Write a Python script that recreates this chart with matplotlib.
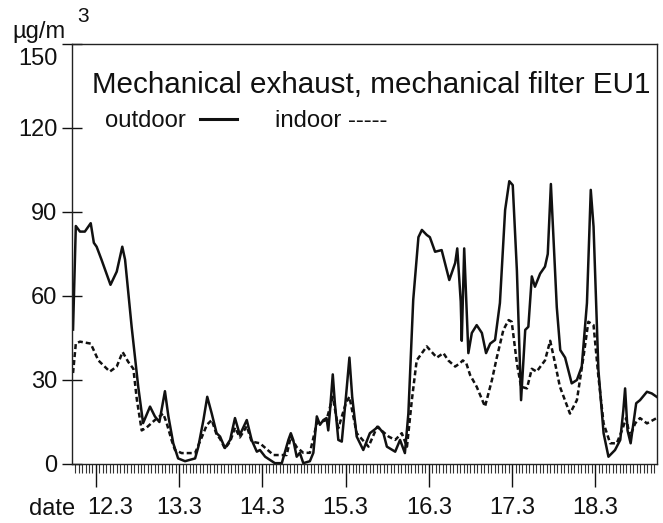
import matplotlib
matplotlib.use('Agg')
import matplotlib.pyplot as plt
import matplotlib.transforms as mtransforms
from matplotlib.ticker import MultipleLocator, FixedLocator
from matplotlib.lines import Line2D

plt.rcParams['font.family'] = ['Liberation Sans', 'DejaVu Sans']

# time axis: hours counted from 12.3 00:00
outdoor_hours = [-6.6, -5.8, -4.6, -3.2, -1.5, -0.6, 0.2, 1.6, 4.2, 6.0, 7.6, 8.4, 10.3, 12.2,
                 13.6, 15.6, 17.0, 18.3, 19.9, 20.9, 22.3, 23.7, 25.7, 28.6, 29.5, 31.0, 32.1,
                 33.4, 34.8, 35.8, 37.2, 38.7, 40.1, 41.5, 43.5, 44.9, 46.4, 47.3, 48.8, 51.6,
                 53.6, 55.5, 56.2, 56.9, 57.9, 58.8, 59.8, 61.7, 62.7, 63.7, 64.6, 65.6, 66.5,
                 67.0, 67.5, 68.3, 68.9, 69.9, 70.9, 72.1, 73.1, 73.9, 75.2, 77.1, 79.0, 81.4,
                 82.9, 83.9, 86.3, 87.7, 89.1, 90.1, 91.5, 93.0, 94.0, 95.4, 96.3, 97.8, 99.7,
                 101.9, 103.6, 104.2, 105.2, 105.5, 106.2, 107.4, 108.4, 109.8, 111.3, 112.5,
                 113.7, 115.1, 116.5, 118.0, 119.2, 120.2, 121.4, 122.6, 123.8, 124.7, 125.7,
                 126.6, 128.1, 129.5, 130.3, 131.2, 132.9, 133.9, 135.3, 137.2, 138.7, 140.1,
                 141.6, 142.7, 143.5, 144.9, 146.4, 147.8, 149.7, 151.2, 152.1, 152.6, 153.3,
                 154.2, 155.8, 156.9, 158.9, 160.3, 161.7]
outdoor_values = [48, 85, 83, 83, 86, 79, 77.6, 73, 64, 68.7, 77.6, 73, 49, 27.6,
                  14.6, 20.5, 17, 15, 26, 17, 7.4, 2, 1, 2, 6, 15.7, 24,
                  18, 11, 9.8, 5.7, 8.6, 16.4, 10.4, 15.7, 8.6, 4.4, 5, 2.6, 0.3,
                  0.3, 8.6, 11, 8.6, 2.6, 4, 0.3, 1, 4, 17, 14, 15.7, 16.4,
                  12, 19, 32, 21.8, 8.6, 8, 24, 38, 24, 9.8, 5, 11, 13.3,
                  11, 6.2, 4.4, 8.6, 3.9, 18, 58.6, 81, 83.6, 81.8, 81, 75.8, 76.4,
                  65.7, 71.8, 77, 58, 44, 77, 39.6, 46.8, 49.6, 46.8, 39.6,
                  43, 44.3, 57.5, 90.7, 101, 99.6, 69, 22.8, 47.9, 49, 67,
                  63.3, 68, 70.5, 75, 100, 56, 40.7, 38, 28.8, 30, 34.8,
                  57.5, 97.9, 84.8, 33.6, 11, 2.6, 5, 8.6, 19.3, 27, 12,
                  7.4, 21.7, 22.8, 25.8, 25.2, 24]

indoor_hours = [-6.6, -5.8, -4.6, -1.5, 0.7, 4.0, 6.0, 7.7, 9.3, 10.8, 11.8, 13.2, 14.6,
                17.0, 19.4, 20.4, 21.8, 22.8, 24.7, 28.6, 30.6, 32.0, 33.4, 34.8, 35.8, 37.2,
                38.7, 40.1, 41.5, 43.5, 44.9, 47.3, 51.2, 55.0, 56.2, 57.9, 59.8, 61.7, 63.7,
                66.5, 68.3, 69.9, 72.1, 73.1, 75.2, 78.6, 81.1, 84.4, 86.3, 88.2, 89.7, 91.1,
                92.5, 95.4, 98.3, 100.2, 101.6, 103.6, 105.0, 105.8, 106.8, 107.9, 109.8,
                112.2, 114.2, 115.6, 117.5, 119.0, 119.9, 121.4, 122.6, 124.3, 125.7, 127.1,
                129.5, 131.0, 132.4, 133.8, 136.7, 138.7, 140.6, 142.0, 143.5, 144.9, 146.4,
                148.3, 150.2, 151.7, 152.9, 154.0, 155.5, 156.9, 158.9, 161.7]
indoor_values = [32.5, 43, 43.7, 43, 37, 33, 34.8, 40, 36.5, 34, 23, 12, 13,
                 15.7, 18, 14.6, 8.6, 5, 3.9, 3.9, 9.8, 14, 15.7, 10.5, 9, 5.5,
                 8, 13, 9.5, 13.5, 8, 7.4, 3.2, 3.2, 9.8, 6, 4, 4, 14.6,
                 15.7, 24, 12.8, 21.8, 24, 11, 6.2, 13.3, 9.8, 8.6, 11, 6.2, 22.8,
                 37, 42, 38, 39.6, 37, 34.8, 36, 37, 36, 31.8, 27.6,
                 20.5, 30, 38, 47.9, 51.4, 50.8, 36, 27.6, 27, 34, 33,
                 37, 44, 36, 27.6, 18, 22.8, 38.3, 50.8, 49.6, 31.2, 14.5,
                 7.4, 7.4, 12, 16.4, 9.8, 14.5, 16.4, 14.5, 16.4]

day_hours = [0, 24, 48, 72, 96, 120, 144]
day_labels = ['12.3', '13.3', '14.3', '15.3', '16.3', '17.3', '18.3']
y_ticks = [0, 30, 60, 90, 120, 150]

W, H = 663, 523
fig = plt.figure(figsize=(W / 100, H / 100), dpi=100)
fig.patch.set_facecolor('white')
ax = fig.add_axes([72 / W, 1 - 464 / H, (657 - 72) / W, (464 - 44) / H])

ax.plot(outdoor_hours, outdoor_values, color='#111111', lw=1.8)
ax.plot(indoor_hours, indoor_values, color='#111111', lw=1.8, ls=(0, (2.0, 1.2)))

ax.set_xlim(-6.9, 161.8)
ax.set_ylim(0, 150)

for s in ax.spines.values():
    s.set_linewidth(1.0)
    s.set_color('#222222')

ax.yaxis.set_major_locator(FixedLocator(y_ticks))
ax.tick_params(axis='y', direction='inout', length=14, width=1.0, pad=3.5,
               labelsize=17, colors='#111111')
ax.xaxis.set_major_locator(FixedLocator(day_hours))
ax.set_xticklabels(day_labels)
ax.xaxis.set_minor_locator(MultipleLocator(1))
ax.tick_params(axis='x', which='major', direction='out', length=16.5, width=1.0,
               pad=7, labelsize=17, colors='#111111')
ax.tick_params(axis='x', which='minor', direction='out', length=6.5, width=0.8,
               colors='#333333')

# shift the top y label down (as in the reference) and the first date label right
fig.canvas.draw()
ylabels = ax.get_yticklabels()
top_lab = ylabels[-1]
top_lab.set_transform(top_lab.get_transform() +
                      mtransforms.ScaledTranslation(0, -13 / 100, fig.dpi_scale_trans))
xlabels = ax.get_xticklabels()
first_lab = xlabels[0]
first_lab.set_transform(first_lab.get_transform() +
                        mtransforms.ScaledTranslation(14 / 100, 0, fig.dpi_scale_trans))

# labels and annotations
fig.text(29 / W, 1 - 498 / H, 'date', fontsize=17, ha='left', va='top', color='#111111')
fig.text(12 / W, 1 - 38 / H, 'µg/m', fontsize=17, ha='left', va='baseline', color='#111111')
fig.text(77 / W, 1 - 22 / H, '3', fontsize=15, ha='left', va='baseline', color='#111111')

fig.text(371 / W, 1 - 93 / H, 'Mechanical exhaust, mechanical filter EU1', fontsize=21.3,
         ha='center', va='baseline', color='#111111')
fig.text(105 / W, 1 - 127 / H, 'outdoor', fontsize=17.2, ha='left', va='baseline', color='#111111')
fig.add_artist(Line2D([200 / W, 237 / W], [1 - 119 / H, 1 - 119 / H], color='#111111', lw=2.2,
                      transform=fig.transFigure))
fig.text(275 / W, 1 - 127 / H, 'indoor -----', fontsize=17.2, ha='left', va='baseline',
         color='#111111')

fig.savefig('out.png', dpi=100)
